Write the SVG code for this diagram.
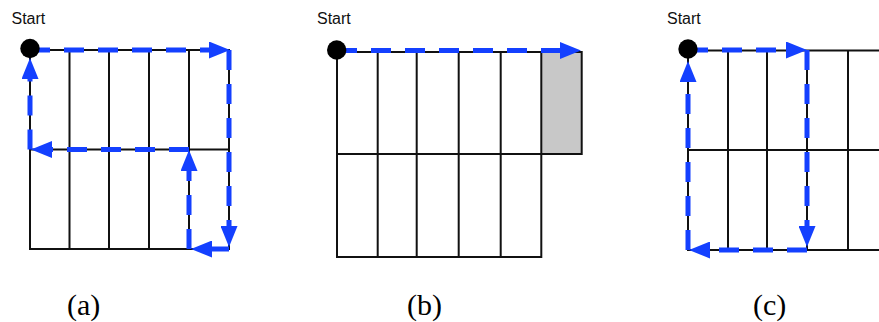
<svg xmlns="http://www.w3.org/2000/svg" width="879" height="322" viewBox="0 0 879 322">
<defs>
<style>
.g{stroke:#111;stroke-width:2;fill:none;stroke-linecap:square}
.p{stroke:#1440ff;stroke-width:5;fill:none;stroke-dasharray:20 14}
.dot{fill:#000}
.st{font-family:"Liberation Sans",Arial,sans-serif;font-size:16px;fill:#111}
.lb{font-family:"Liberation Serif","Times New Roman",serif;font-size:30px;fill:#000}
</style>
<marker id="ah" markerUnits="userSpaceOnUse" markerWidth="21" markerHeight="17" refX="0" refY="8.5" orient="auto" viewBox="0 0 21 17">
<path d="M0,0 L21,8.5 L0,17 z" fill="#1440ff"/>
</marker>
</defs>
<rect width="879" height="322" fill="#fff"/>

<g id="panel-a-grid">
<path class="g" d="M30,50 H229 M30,149.5 H229 M30,249 H229 M30,50 V249 M69.5,50 V249 M109,50 V249 M149,50 V249 M189,50 V249 M229,50 V249"/>
</g>
<g id="panel-b-grid">
<rect x="541.3" y="52" width="40.4" height="102" fill="#c8c8c8"/>
<path class="g" d="M337,52 H581.7 M337,154 H581.7 M337,257 H541.3 M337,52 V257 M377.7,52 V257 M416.7,52 V257 M458.7,52 V257 M500.7,52 V257 M541.3,52 V257 M581.7,52 V154"/>
</g>
<g id="panel-c-grid">
<path class="g" d="M688,50.5 H890 M688,150 H890 M688,250 H890 M688,50.5 V250 M728,50.5 V250 M767,50.5 V250 M807,50.5 V250 M848,50.5 V250"/>
</g>

<g id="connectors">
<line class="p" x1="30" y1="50" x2="209" y2="50" marker-end="url(#ah)"/>
<line class="p" x1="229" y1="50" x2="229" y2="226" marker-end="url(#ah)"/>
<line class="p" x1="229" y1="249" x2="212" y2="249" marker-end="url(#ah)"/>
<line class="p" x1="189" y1="249" x2="189" y2="171" marker-end="url(#ah)"/>
<line class="p" x1="189" y1="149.5" x2="52" y2="149.5" marker-end="url(#ah)"/>
<line class="p" x1="30" y1="149.5" x2="30" y2="79" marker-end="url(#ah)"/>

<line class="p" x1="337" y1="50.5" x2="560" y2="50.5" marker-end="url(#ah)"/>

<line class="p" x1="688" y1="50" x2="786" y2="50" marker-end="url(#ah)"/>
<line class="p" x1="807" y1="50" x2="807" y2="226" marker-end="url(#ah)"/>
<line class="p" x1="807" y1="250" x2="710" y2="250" marker-end="url(#ah)"/>
<line class="p" x1="688" y1="250" x2="688" y2="82" marker-end="url(#ah)"/>
</g>

<g id="start-a">
<circle class="dot" cx="30" cy="48.5" r="9.7"/>
<text class="st" x="11.5" y="24">Start</text>
</g>
<g id="start-b">
<circle class="dot" cx="336.7" cy="50" r="9.7"/>
<text class="st" x="317" y="24">Start</text>
</g>
<g id="start-c">
<circle class="dot" cx="688" cy="49" r="9.7"/>
<text class="st" x="667" y="24">Start</text>
</g>

<g id="labels">
<text class="lb" x="67" y="315">(a)</text>
<text class="lb" x="407" y="315">(b)</text>
<text class="lb" x="753" y="315">(c)</text>
</g>
</svg>
